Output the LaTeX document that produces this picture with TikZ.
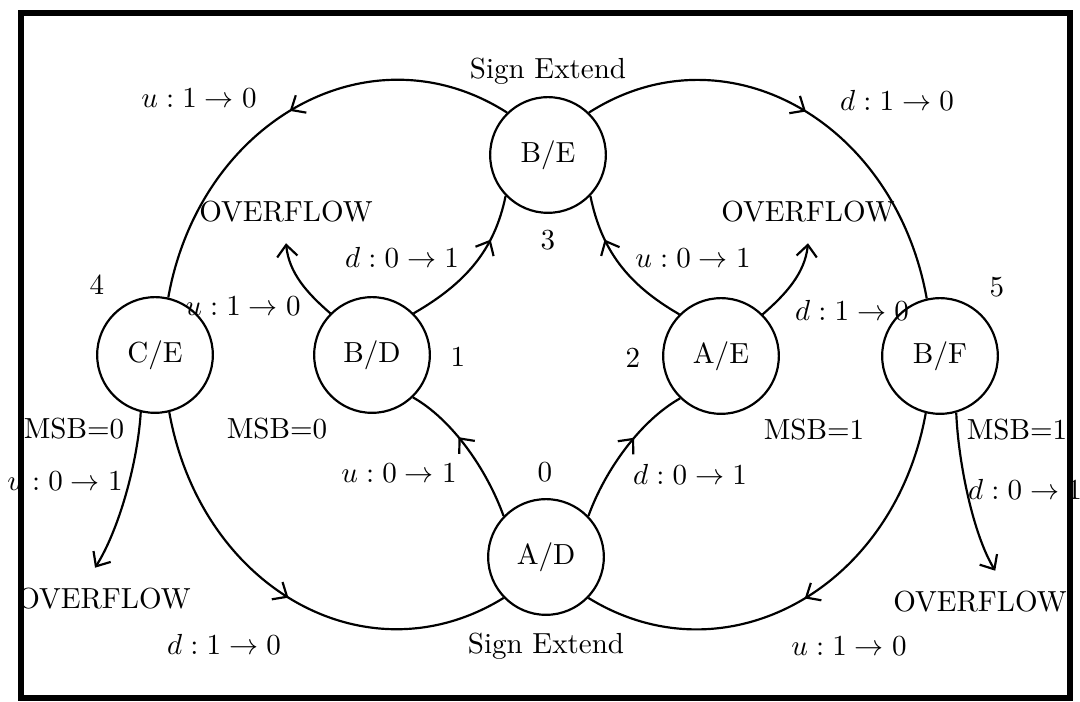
\documentclass[tikz,border=0pt]{standalone}
\usetikzlibrary{arrows.meta,decorations.markings}

\tikzset{
  state/.style={draw, circle, line width=0.75pt, minimum size=1.4cm, inner sep=0pt},
  ovf/.style={outer sep=3.8pt},
  arr/.style={-{Straight Barb[length=4pt,width=7pt]}},
  mid/.style={postaction={decorate, decoration={markings,
      mark=at position #1 with {\arrow{Straight Barb[length=4pt,width=7pt]}}}}}
}

\begin{document}
\begin{tikzpicture}[x=0.0121cm, y=-0.0121cm, line width=0.75pt]
    \useasboundingbox (0,0) rectangle (1080,702);
    \draw [line width=2.4pt] (21,13) rectangle (1070,698);

    \node [state] (CE) at (155,355) {C/E};
    \node [state] (BD) at (372,355) {B/D};
    \node [state] (BE) at (548,155) {B/E};
    \node [state] (AD) at (546,557) {A/D};
    \node [state] (AE) at (721,356) {A/E};
    \node [state] (BF) at (940,356) {B/F};

    \node (n4) at (97,285) {4};
    \node (n1) at (458,357) {1};
    \node (n3) at (548,240) {3};
    \node (n0) at (545,472) {0};
    \node (n2) at (633,358) {2};
    \node (n5) at (997,287) {5};

    \node [ovf] (ovl) at (286,212) {OVERFLOW};
    \node [ovf] (ovr) at (808,212) {OVERFLOW};
    \node [ovf] (ovbl) at (104,599) {OVERFLOW};
    \node [ovf] (ovbr) at (980,602) {OVERFLOW};

    \node (sgt) at (548,71) {Sign Extend};
    \node (sgb) at (546,646) {Sign Extend};

    \node (ltl) at (199,98) {$u:1\rightarrow 0$};
    \node (ltr) at (897,100) {$d:1\rightarrow 0$};
    \node (lce) at (243,306) {$u:1\rightarrow 0$};
    \node (lbf) at (852,310) {$d:1\rightarrow 0$};
    \node (lbd) at (402,257) {$d:0\rightarrow 1$};
    \node (lae) at (693,258) {$u:0\rightarrow 1$};
    \node (lad1) at (399,473) {$u:0\rightarrow 1$};
    \node (lad2) at (690,474) {$d:0\rightarrow 1$};
    \node (lbl) at (224,644) {$d:1\rightarrow 0$};
    \node (lbr) at (849,646) {$u:1\rightarrow 0$};
    \node (lol) at (65,481) {$u:0\rightarrow 1$};
    \node (lor) at (1025,489) {$d:0\rightarrow 1$};

    \node (m0a) at (74,429) {MSB=0};
    \node (m0b) at (277,429) {MSB=0};
    \node (m1a) at (814,430) {MSB=1};
    \node (m1b) at (1017,430) {MSB=1};

    % outer loops
    \draw [mid=0.5] (BE.134) .. controls +(-136,-87) and +(32,-178) .. (CE.77);
    \draw [mid=0.5] (CE.-76) .. controls +(32,177) and +(-136,84) .. (AD.224);
    \draw [mid=0.5] (BE.46) .. controls +(136,-87) and +(-32,-178) .. (BF.103);
    \draw [mid=0.5] (BF.-104) .. controls +(-32,177) and +(136,84) .. (AD.-44);

    % inner paths
    \draw [mid=0.7] (BD.45) .. controls +(52,-30) and +(-11,54) .. (BE.224);
    \draw [mid=0.7] (AE.135) .. controls +(-52,-30) and +(11,54) .. (BE.-44);
    \draw [mid=0.6] (AD.136) .. controls +(-17,-47) and +(39,22) .. (BD.-46);
    \draw [mid=0.6] (AD.44) .. controls +(17,-47) and +(-39,22) .. (AE.-134);

    % overflow
    \draw [arr] (BD.135) .. controls +(-23,-20) and +(3,30) .. (ovl.south);
    \draw [arr] (AE.45) .. controls +(23,-20) and +(-3,30) .. (ovr.south);
    \draw [arr] (CE.-104) .. controls +(-3,50) and +(24,-38) .. (ovbl.106);
    \draw [arr] (BF.-74) .. controls +(2,50) and +(-22,-36) .. (ovbr.64);
\end{tikzpicture}
\end{document}
